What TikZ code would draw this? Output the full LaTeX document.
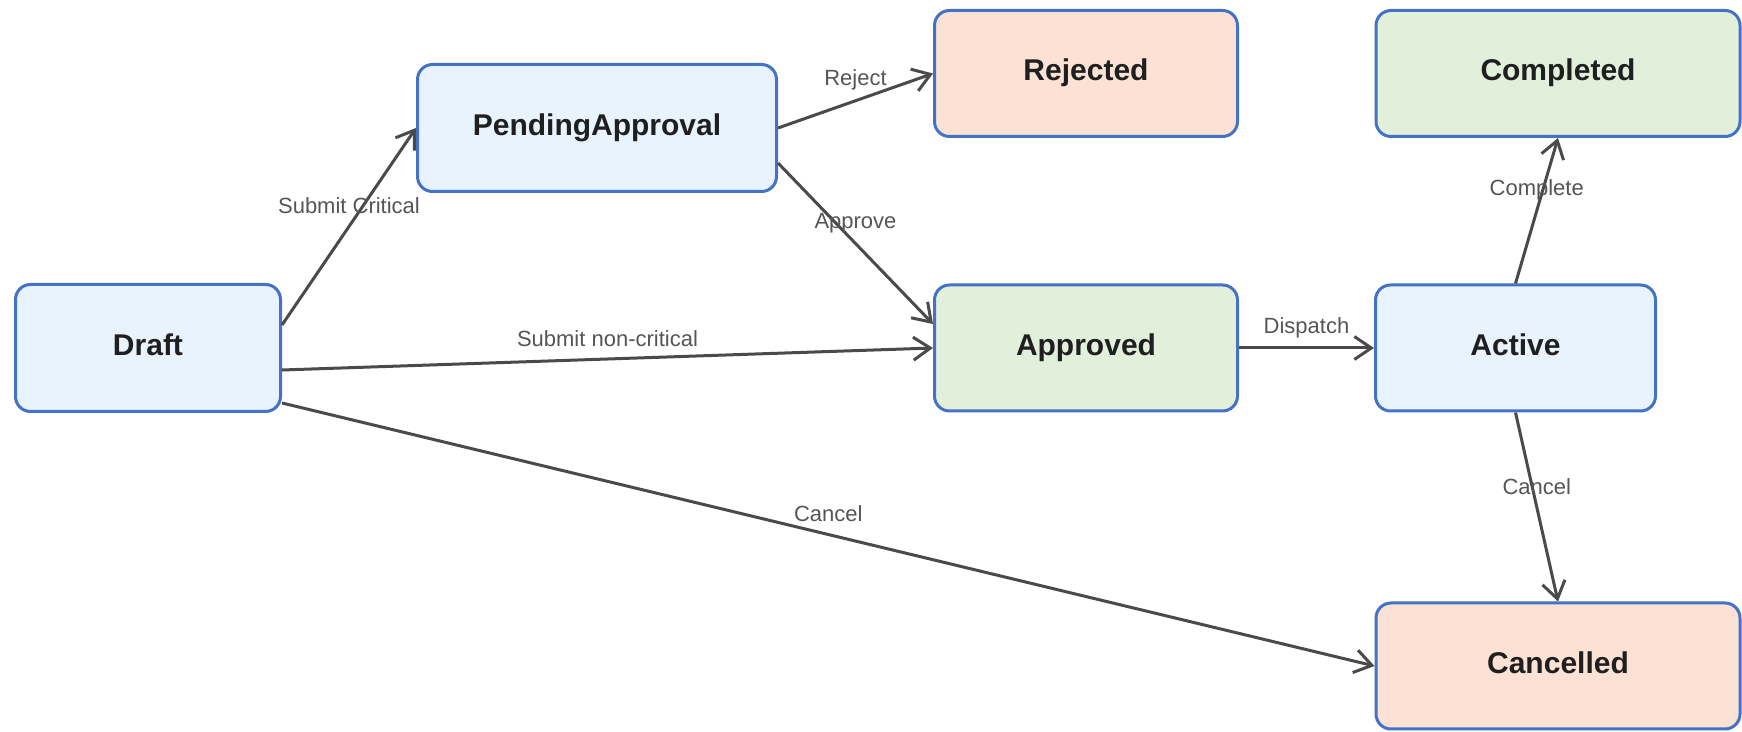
\documentclass[tikz,border=0pt]{standalone}
\usepackage{fontspec}
\setmainfont{Liberation Sans}
\usetikzlibrary{arrows.meta}

\definecolor{boxline}{HTML}{4472C4}
\definecolor{fillblue}{HTML}{E8F3FE}
\definecolor{fillgreen}{HTML}{E2EFDA}
\definecolor{fillpeach}{HTML}{FBE2D5}
\definecolor{edgecol}{HTML}{4A4A4A}
\definecolor{labelcol}{HTML}{555555}
\definecolor{statetext}{HTML}{1F1F1F}

\tikzset{
  state/.style={draw=boxline, line width=1.5pt, rounded corners=7.5pt,
    minimum height=63pt, inner sep=0pt, text=statetext,
    text height=10.7pt, text depth=3.4pt,
    font=\fontsize{15pt}{18pt}\selectfont\bfseries},
  openstate/.style={state, fill=fillblue},
  goodstate/.style={state, fill=fillgreen},
  badstate/.style={state, fill=fillpeach},
  trans/.style={draw=edgecol, line width=1.5pt,
    -{Straight Barb[length=8.5pt, width=11.5pt, line width=1.5pt]}},
  tlabel/.style={midway, yshift=10.3pt, text=labelcol, inner sep=0pt,
    font=\fontsize{11pt}{13pt}\selectfont}
}

\begin{document}
\begin{tikzpicture}[x=0.5pt, y=-0.5pt]
\useasboundingbox (0,0) rectangle (1742,732);

% states
\node[openstate, minimum width=132.5pt, minimum height=63.5pt] (draft)   at (148,348)    {Draft};
\node[openstate, minimum width=179.5pt, minimum height=63.5pt] (pending) at (597,128)    {PendingApproval};
\node[badstate,  minimum width=151.5pt] (rejected)  at (1086,73.5) {Rejected};
\node[goodstate, minimum width=182pt]   (completed) at (1558,73.5) {Completed};
\node[goodstate, minimum width=151.5pt] (approved)  at (1086,348)  {Approved};
\node[openstate, minimum width=140pt]   (active)    at (1515.5,348) {Active};
\node[badstate,  minimum width=182pt]   (cancelled) at (1558,666)  {Cancelled};

% transitions
\draw[trans] ([yshift=11.5pt]draft.east) -- (pending.west)
  node[tlabel] {Submit Critical};
\draw[trans] (pending.east) -- (rejected.west)
  node[tlabel] {Reject};
\draw[trans] ([yshift=-17.5pt]pending.east) -- ([yshift=12pt]approved.west)
  node[tlabel] {Approve};
\draw[trans] ([yshift=-11pt]draft.east) -- (approved.west)
  node[tlabel] {Submit non-critical};
\draw[trans] ([yshift=-27.5pt]draft.east) -- (cancelled.west)
  node[tlabel] {Cancel};
\draw[trans] (approved.east) -- (active.west)
  node[tlabel] {Dispatch};
\draw[trans] (active.north) -- (completed.south)
  node[tlabel] {Complete};
\draw[trans] (active.south) -- (cancelled.north)
  node[tlabel] {Cancel};
\end{tikzpicture}
\end{document}
